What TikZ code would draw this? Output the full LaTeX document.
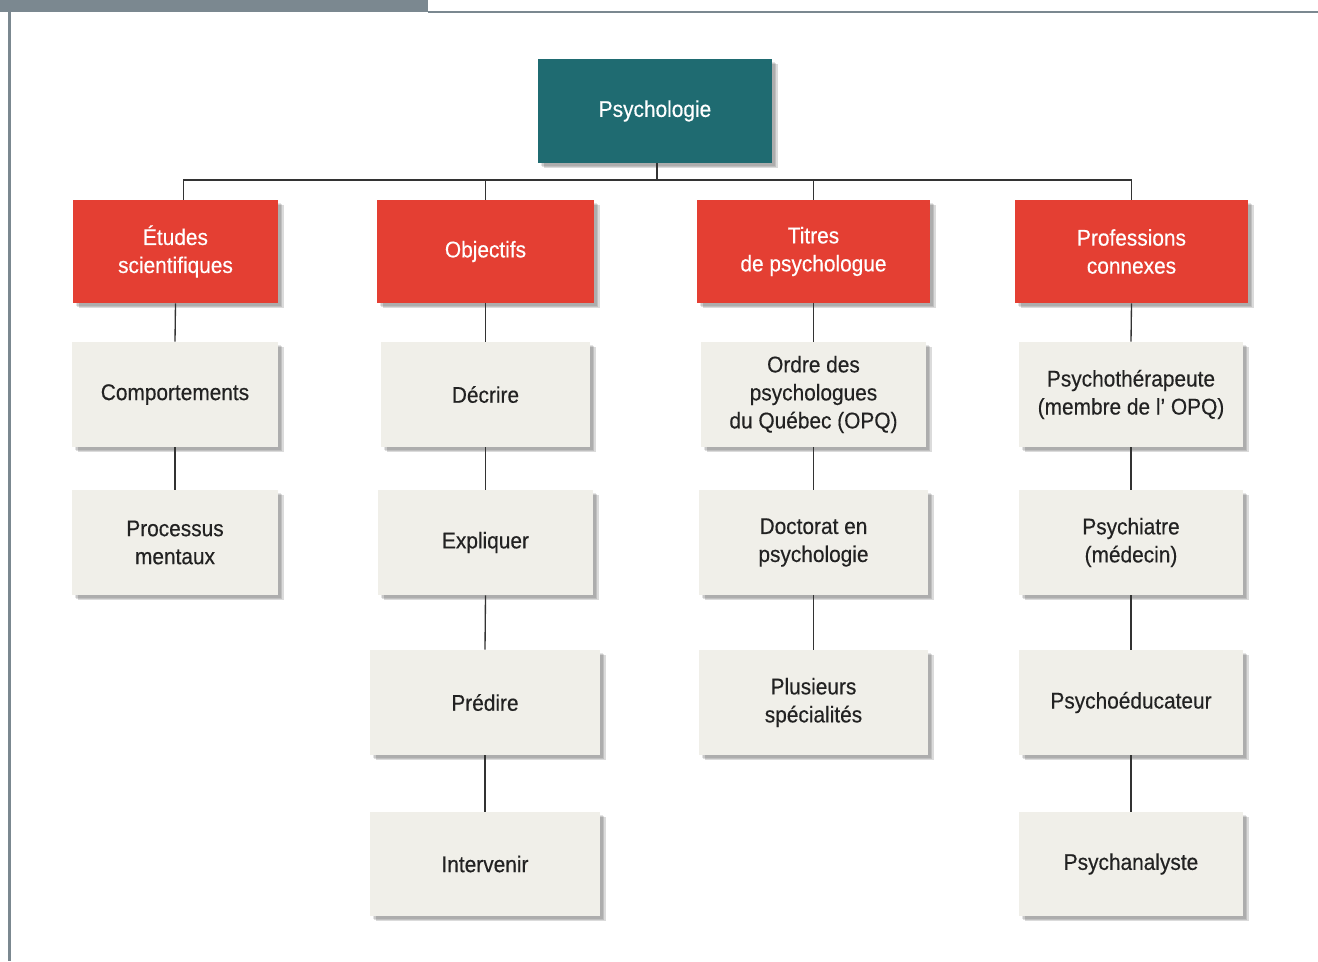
\documentclass[tikz,border=0pt]{standalone}
\usepackage{fontspec}
\setmainfont{Liberation Sans}[FakeStretch=0.92,FakeBold=0.4]
\definecolor{teal1}{HTML}{1F6B71}
\definecolor{red1}{HTML}{E43F33}
\definecolor{paper}{HTML}{F0EFE9}
\definecolor{frame}{HTML}{7B8890}
\definecolor{ink}{HTML}{222222}
\definecolor{wire}{HTML}{333333}
\begin{document}
\begin{tikzpicture}[x=0.75pt,y=-0.75pt,
  softshadow/.style={
    preaction={fill=black, opacity=0.10, transform canvas={shift={(2.2pt,-2.2pt)}}},
    preaction={fill=black, opacity=0.12, transform canvas={shift={(3.2pt,-3.2pt)}}},
    preaction={fill=black, opacity=0.14, transform canvas={shift={(4.2pt,-3.8pt)}}}},
  base/.style={rectangle, align=center, inner sep=2pt, softshadow,
    font=\fontsize{17}{21}\selectfont, yshift=-1.5pt},
  sz/.style 2 args={minimum width=#1*0.75pt, minimum height=#2*0.75pt},
  topbox/.style={base, fill=teal1, text=white},
  catbox/.style={base, fill=red1, text=white},
  itembox/.style={base, fill=paper, text=ink},
  link/.style={draw=wire, line width=1pt}]
\useasboundingbox (0,0) rectangle (1318,961);

% page frame
\fill[frame] (0,0) rectangle (428,12);
\fill[frame] (428,11) rectangle (1318,13);
\fill[frame] (7.5,12) rectangle (10.5,961);

% root
\node[topbox, sz={234}{104}] (psy) at (655,109) {Psychologie};

% categories
\node[catbox, sz={205}{103}] (etu) at (175.5,249.5) {Études\\scientifiques};
\node[catbox, sz={217}{103}] (obj) at (485.5,249.5) {Objectifs};
\node[catbox, sz={233}{103}] (tit) at (813.5,249.5) {Titres\\de psychologue};
\node[catbox, sz={233}{103}] (pro) at (1131.5,249.5) {Professions\\connexes};

% column 1
\node[itembox, sz={206}{105}] (com) at (175,392.5) {Comportements};
\node[itembox, sz={206}{105}] (pme) at (175,540.5) {Processus\\mentaux};

% column 2
\node[itembox, sz={209}{105}] (dec) at (485.5,392.5) {Décrire};
\node[itembox, sz={215}{105}] (exp) at (485.5,540.5) {Expliquer};
\node[itembox, sz={230}{105}] (pre) at (485,700.5) {Prédire};
\node[itembox, sz={230}{104}] (int) at (485,862) {Intervenir};

% column 3
\node[itembox, sz={225}{105}] (opq) at (813.5,392.5) {Ordre des\\psychologues\\du Québec (OPQ)};
\node[itembox, sz={229}{105}] (doc) at (813.5,540.5) {Doctorat en\\psychologie};
\node[itembox, sz={229}{105}] (plu) at (813.5,700.5) {Plusieurs\\spécialités};

% column 4
\node[itembox, sz={224}{105}] (pth) at (1131,392.5) {Psychothérapeute\\(membre de l’ OPQ)};
\node[itembox, sz={224}{105}] (pia) at (1131,540.5) {Psychiatre\\(médecin)};
\node[itembox, sz={224}{105}] (ped) at (1131,700.5) {Psychoéducateur};
\node[itembox, sz={224}{104}] (pan) at (1131,862) {Psychanalyste};

% tree connectors
\coordinate (bar) at (0,180);
\draw[link] ([xshift=1.5pt]psy.south) -- ([xshift=1.5pt]psy.south |- bar);
\draw[link] ([xshift=6pt]etu.north) |- (pro.north |- bar) -- (pro.north);
\draw[link] (obj.north) -- (obj.north |- bar);
\draw[link] (tit.north) -- (tit.north |- bar);

\draw[link] (etu.south) -- (com.north);
\draw[link] (com.south) -- (pme.north);

\draw[link] (obj.south) -- (dec.north);
\draw[link] (dec.south) -- (exp.north);
\draw[link] (exp.south) -- (pre.north);
\draw[link] (pre.south) -- (int.north);

\draw[link] (tit.south) -- (opq.north);
\draw[link] (opq.south) -- (doc.north);
\draw[link] (doc.south) -- (plu.north);

\draw[link] (pro.south) -- (pth.north);
\draw[link] (pth.south) -- (pia.north);
\draw[link] (pia.south) -- (ped.north);
\draw[link] (ped.south) -- (pan.north);
\end{tikzpicture}
\end{document}
